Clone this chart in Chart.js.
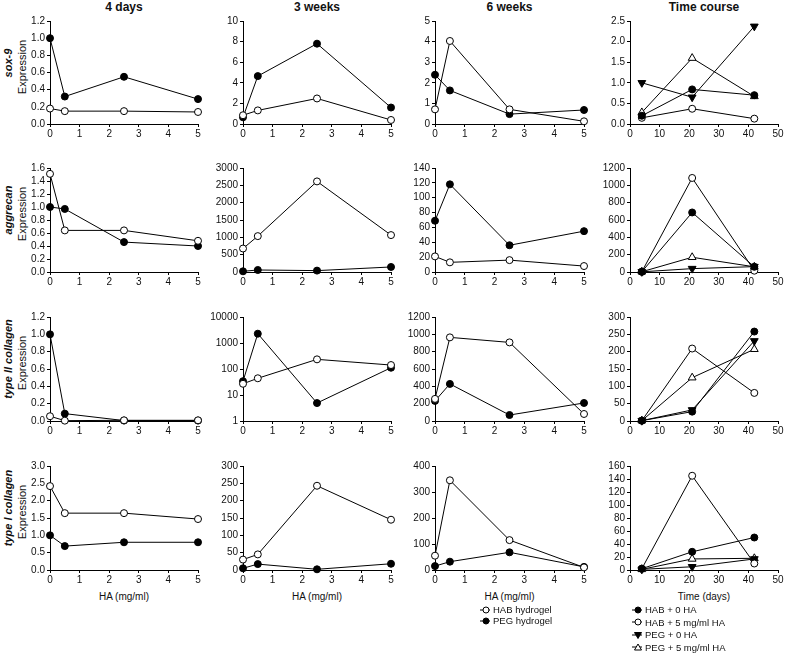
<!DOCTYPE html>
<html><head><meta charset="utf-8">
<script src="https://cdn.jsdelivr.net/npm/chart.js@4/dist/chart.umd.min.js"></script>
<style>
body{margin:0;background:#fff;width:798px;height:658px;position:relative;overflow:hidden;font-family:"Liberation Sans",Arial,sans-serif;color:#111}
canvas{position:absolute}
.t{position:absolute;white-space:nowrap}
.title{font-weight:bold;font-size:12px;transform:translateX(-50%)}
.rot{transform:translate(-50%,-50%) rotate(-90deg);font-size:11px}
.gene{font-weight:bold;font-style:italic}
.xl{font-size:10px;transform:translateX(-50%)}
.lg{font-size:9.5px;display:flex;align-items:center}
.lg svg{margin-right:3px}
</style></head><body>
<script>
// ---- data ----
const HA = [0, 0.5, 2.5, 5];
const DAYS = [4, 21, 42];
const colTitles = ["4 days", "3 weeks", "6 weeks", "Time course"];
const genes = ["sox-9", "aggrecan", "type II collagen", "type I collagen"];

const sox9_4d_HAB = [0.18, 0.15, 0.15, 0.14];
const sox9_4d_PEG = [1.0, 0.32, 0.55, 0.29];
const sox9_3w_HAB = [0.85, 1.32, 2.48, 0.39];
const sox9_3w_PEG = [0.65, 4.65, 7.8, 1.6];
const sox9_6w_HAB = [0.71, 4.03, 0.71, 0.13];
const sox9_6w_PEG = [2.39, 1.63, 0.48, 0.68];
const sox9_tc_HAB0 = [0.2, 0.84, 0.70];
const sox9_tc_HAB5 = [0.15, 0.37, 0.13];
const sox9_tc_PEG0 = [1.0, 0.65, 2.37];
const sox9_tc_PEG5 = [0.28, 1.6, 0.67];

const agg_4d_HAB = [1.51, 0.64, 0.64, 0.48];
const agg_4d_PEG = [1.0, 0.97, 0.46, 0.40];
const agg_3w_HAB = [677, 1035, 2613, 1065];
const agg_3w_PEG = [20, 58, 40, 145];
const agg_6w_HAB = [21, 13, 16, 8];
const agg_6w_PEG = [69, 118, 36, 55];
const agg_tc_HAB0 = [3, 687, 60];
const agg_tc_HAB5 = [3, 1085, 15];
const agg_tc_PEG0 = [2, 39, 62];
const agg_tc_PEG5 = [3, 170, 60];

const col2_4d_HAB = [0.055, 0.004, 0.008, 0.008];
const col2_4d_PEG = [1.0, 0.085, 0.005, 0.005];
const col2_3w_HAB = [27, 44, 235, 142];
const col2_3w_PEG = [34, 2280, 4.9, 112];
const col2_6w_HAB = [255, 965, 907, 81];
const col2_6w_PEG = [232, 428, 69, 208];
const col2_tc_HAB0 = [1, 27, 258];
const col2_tc_HAB5 = [1, 209, 81];
const col2_tc_PEG0 = [1, 32, 231];
const col2_tc_PEG5 = [1, 125, 207];

const col1_4d_HAB = [2.42, 1.64, 1.64, 1.47];
const col1_4d_PEG = [1.0, 0.69, 0.8, 0.8];
const col1_3w_HAB = [30, 45, 243, 145];
const col1_3w_PEG = [5, 17, 2, 18];
const col1_6w_HAB = [55, 345, 115, 10];
const col1_6w_PEG = [15, 32, 68, 12];
const col1_tc_HAB0 = [2, 28, 50];
const col1_tc_HAB5 = [2, 145, 10];
const col1_tc_PEG0 = [1, 5, 17];
const col1_tc_PEG5 = [1, 17, 18];

// y-axis ranges [max, step, decimals] per row/col
const yRanges = [
  [[1.2,0.2,1],[10,2,0],[5,1,0],[2.5,0.5,1]],
  [[1.6,0.2,1],[3000,500,0],[140,20,0],[1200,200,0]],
  [[1.2,0.2,1],['log'],[1200,200,0],[300,50,0]],
  [[3.0,0.5,1],[300,50,0],[400,100,0],[160,20,0]]
];
const panels = [
  [[sox9_4d_HAB,sox9_4d_PEG],[sox9_3w_HAB,sox9_3w_PEG],[sox9_6w_HAB,sox9_6w_PEG],[sox9_tc_HAB0,sox9_tc_HAB5,sox9_tc_PEG0,sox9_tc_PEG5]],
  [[agg_4d_HAB,agg_4d_PEG],[agg_3w_HAB,agg_3w_PEG],[agg_6w_HAB,agg_6w_PEG],[agg_tc_HAB0,agg_tc_HAB5,agg_tc_PEG0,agg_tc_PEG5]],
  [[col2_4d_HAB,col2_4d_PEG],[col2_3w_HAB,col2_3w_PEG],[col2_6w_HAB,col2_6w_PEG],[col2_tc_HAB0,col2_tc_HAB5,col2_tc_PEG0,col2_tc_PEG5]],
  [[col1_4d_HAB,col1_4d_PEG],[col1_3w_HAB,col1_3w_PEG],[col1_6w_HAB,col1_6w_PEG],[col1_tc_HAB0,col1_tc_HAB5,col1_tc_PEG0,col1_tc_PEG5]]
];

// ---- layout ----
const XL = [50, 243, 435, 630], XR = [198, 391, 584, 778];
const YT = [21, 168, 317, 466], YB = [124, 272, 421, 570];
const W = 48, PT = 8, PR = 10, H = 22;
const FONT = {family: '"Liberation Sans", Arial, sans-serif', size: 10};

// styles: HAB open circle, PEG filled circle; time-course 4 styles
const stHAB = {pointStyle:'circle', pointBackgroundColor:'#fff', pointRadius:3.5, pointRotation:0};
const stPEG = {pointStyle:'circle', pointBackgroundColor:'#000', pointRadius:3.5, pointRotation:0};
const stTC = [
  {pointStyle:'circle', pointBackgroundColor:'#000', pointRadius:3.5, pointRotation:0},
  {pointStyle:'circle', pointBackgroundColor:'#fff', pointRadius:3.5, pointRotation:0},
  {pointStyle:'triangle', pointBackgroundColor:'#000', pointRadius:4.5, pointRotation:180},
  {pointStyle:'triangle', pointBackgroundColor:'#fff', pointRadius:4.5, pointRotation:0}
];

function addText(html, cls, x, y) {
  const d = document.createElement('div');
  d.className = 't ' + cls; d.innerHTML = html;
  d.style.left = x + 'px'; d.style.top = y + 'px';
  document.body.appendChild(d);
}

for (let c = 0; c < 4; c++) addText(colTitles[c], 'title', (XL[c]+XR[c])/2, 0);
for (let r = 0; r < 4; r++) {
  addText(genes[r], 'rot gene', 8, YT[r]+42);
  addText('Expression', 'rot', 22, YT[r]+46);
}
for (let c = 0; c < 4; c++) addText(c < 3 ? 'HA (mg/ml)' : 'Time (days)', 'xl', (XL[c]+XR[c])/2, 591);

for (let r = 0; r < 4; r++) {
  for (let c = 0; c < 4; c++) {
    const cv = document.createElement('canvas');
    const cw = (XR[c]-XL[c]) + W + PR, ch = (YB[r]-YT[r]) + PT + H;
    cv.width = cw; cv.height = ch;
    cv.style.left = (XL[c]-W) + 'px'; cv.style.top = (YT[r]-PT) + 'px';
    document.body.appendChild(cv);
    const xs = c < 3 ? HA : DAYS;
    const series = panels[r][c];
    const datasets = series.map((vals, i) => {
      const st = c < 3 ? (i === 0 ? stHAB : stPEG) : stTC[i];
      return Object.assign({
        data: vals.map((v, k) => ({x: xs[k], y: v})),
        borderColor: '#000', borderWidth: 1, pointBorderColor: '#000', pointBorderWidth: 1,
        showLine: true, clip: false, tension: 0
      }, st);
    });
    const yr = yRanges[r][c];
    let yScale;
    const common = {
      border: {display: true, color: '#000', width: 1},
      grid: {display: true, drawOnChartArea: false, drawTicks: true, tickLength: 3, color: '#000', lineWidth: 1},
      afterFit: s => { s.width = W; }
    };
    if (yr[0] === 'log') {
      yScale = Object.assign({type: 'logarithmic', min: 1, max: 10000,
        afterBuildTicks: ax => { ax.ticks = [1,10,100,1000,10000].map(v => ({value: v})); },
        ticks: {font: FONT, color: '#111', padding: 2, callback: v => String(v)}}, common);
    } else {
      yScale = Object.assign({type: 'linear', min: 0, max: yr[0],
        ticks: {stepSize: yr[1], font: FONT, color: '#111', padding: 2, autoSkip: false,
          callback: v => Number(v).toFixed(yr[2])}}, common);
    }
    new Chart(cv, {
      type: 'scatter',
      data: {datasets},
      options: {
        responsive: false, animation: false, devicePixelRatio: 1,
        layout: {padding: {top: PT, right: PR, left: 0, bottom: 0}},
        plugins: {legend: {display: false}, tooltip: {enabled: false}},
        scales: {
          x: {type: 'linear', min: 0, max: c < 3 ? 5 : 50,
            border: {display: true, color: '#000', width: 1},
            grid: {display: true, drawOnChartArea: false, drawTicks: true, tickLength: 3, color: '#000', lineWidth: 1},
            ticks: {stepSize: c < 3 ? 1 : 10, font: FONT, color: '#111', padding: 1, autoSkip: false, maxRotation: 0},
            afterFit: s => { s.height = H; }},
          y: yScale
        }
      }
    });
  }
}

// ---- legends ----
function sym(fill, shape) {
  let m;
  if (shape === 'circle') m = `<circle cx="8" cy="5" r="3" fill="${fill}" stroke="#000" stroke-width="1"/>`;
  else if (shape === 'down') m = `<polygon points="4.5,2.5 11.5,2.5 8,8.5" fill="${fill}" stroke="#000" stroke-width="1"/>`;
  else m = `<polygon points="4.5,8 11.5,8 8,2" fill="${fill}" stroke="#000" stroke-width="1"/>`;
  return `<svg width="12" height="10"><line x1="2" y1="5" x2="14" y2="5" stroke="#000" stroke-width="1"/>${m}</svg>`;
}
const legend1 = [["HAB hydrogel", '#fff', 'circle'], ["PEG hydrogel", '#000', 'circle']];
const legend2 = [["HAB + 0 HA", '#000', 'circle'], ["HAB + 5 mg/ml HA", '#fff', 'circle'],
                 ["PEG + 0 HA", '#000', 'down'], ["PEG + 5 mg/ml HA", '#fff', 'up']];
legend1.forEach((e, i) => addText(sym(e[1], e[2]) + e[0], 'lg', 478, 604 + i*11));
legend2.forEach((e, i) => addText(sym(e[1], e[2]) + e[0], 'lg', 630, 604 + i*12.5));
</script>
</body></html>
